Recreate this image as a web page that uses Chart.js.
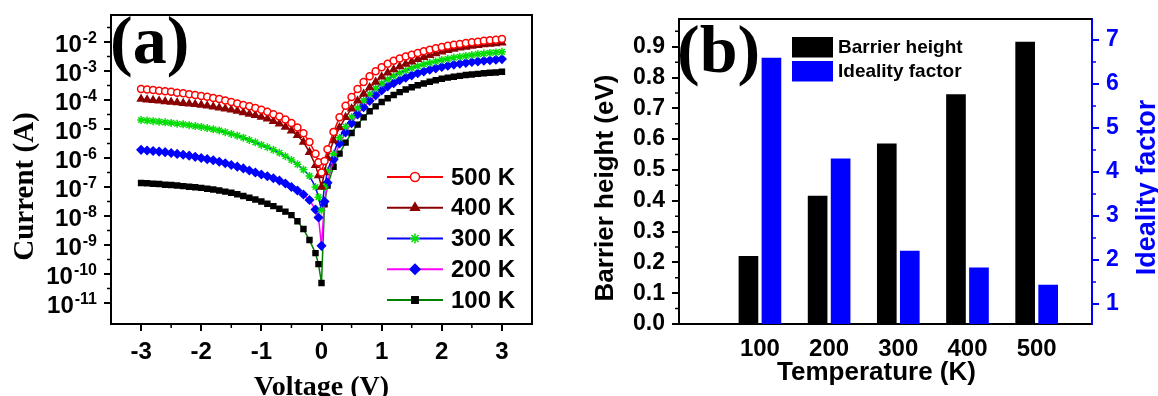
<!DOCTYPE html>
<html>
<head>
<meta charset="utf-8">
<script src="https://cdn.jsdelivr.net/npm/chart.js@4.4.1/dist/chart.umd.min.js"></script>
<style>
  html, body { margin: 0; padding: 0; background: #fff; }
  #wrap { position: relative; width: 1158px; height: 396px; overflow: hidden; }
  canvas { position: absolute; top: 0; }
  #iv { left: 0; }
  #bars { left: 565px; }
</style>
</head>
<body>
<div id="wrap">
  <canvas id="iv" width="565" height="396"></canvas>
  <canvas id="bars" width="593" height="396"></canvas>
</div>
<script>
// ---- panel (a): I-V curves, current as log10(I / A)
const voltage = [-3.0,-2.9,-2.8,-2.7,-2.6,-2.5,-2.4,-2.3,-2.2,-2.1,-2.0,-1.9,-1.8,-1.7,-1.6,-1.5,-1.4,-1.3,-1.2,-1.1,
  -1.0,-0.9,-0.8,-0.7,-0.6,-0.5,-0.4,-0.3,-0.2,-0.1,-0.05,0,0.05,
  0.1,0.2,0.3,0.4,0.5,0.6,0.7,0.8,0.9,1.0,1.1,1.2,1.3,1.4,1.5,1.6,1.7,1.8,1.9,2.0,
  2.1,2.2,2.3,2.4,2.5,2.6,2.7,2.8,2.9,3.0]

const log10Current500K = [-3.62,-3.64,-3.66,-3.68,-3.70,-3.72,-3.75,-3.77,-3.80,-3.83,
  -3.86,-3.89,-3.93,-3.97,-4.02,-4.07,-4.12,-4.17,-4.22,-4.28,
  -4.34,-4.41,-4.49,-4.57,-4.67,-4.79,-4.95,-5.15,-5.45,-5.85,
  -6.15,-6.50,-6.10,
  -5.70,-5.10,-4.60,-4.20,-3.90,-3.62,-3.38,-3.18,-3.01,-2.87,
  -2.75,-2.65,-2.57,-2.50,-2.44,-2.38,-2.32,-2.27,-2.22,-2.17,
  -2.13,-2.10,-2.07,-2.04,-2.01,-1.99,-1.96,-1.94,-1.92,-1.90]
const log10Current400K = [-3.97,-3.99,-4.01,-4.03,-4.05,-4.07,-4.09,-4.11,-4.13,-4.15,
  -4.17,-4.20,-4.23,-4.27,-4.30,-4.34,-4.38,-4.43,-4.48,-4.53,
  -4.59,-4.65,-4.73,-4.82,-4.93,-5.06,-5.22,-5.45,-5.80,-6.25,
  -6.60,-7.00,-6.50,
  -6.00,-5.40,-4.95,-4.60,-4.30,-4.03,-3.79,-3.57,-3.38,-3.20,
  -3.06,-2.95,-2.85,-2.76,-2.68,-2.60,-2.53,-2.46,-2.40,-2.34,
  -2.29,-2.24,-2.20,-2.17,-2.14,-2.11,-2.09,-2.07,-2.05,-2.03]
const log10Current300K = [-4.69,-4.71,-4.73,-4.75,-4.77,-4.79,-4.82,-4.84,-4.87,-4.90,
  -4.93,-4.97,-5.01,-5.05,-5.11,-5.17,-5.23,-5.30,-5.38,-5.46,
  -5.55,-5.63,-5.72,-5.82,-5.94,-6.07,-6.22,-6.40,-6.62,-7.00,
  -7.35,-7.80,-7.00,
  -6.45,-5.85,-5.30,-4.92,-4.59,-4.28,-4.02,-3.80,-3.60,-3.43,
  -3.29,-3.17,-3.07,-2.98,-2.90,-2.83,-2.77,-2.72,-2.67,-2.62,
  -2.58,-2.54,-2.51,-2.48,-2.45,-2.42,-2.40,-2.38,-2.36,-2.34]
const log10Current200K = [-5.72,-5.74,-5.76,-5.78,-5.80,-5.83,-5.86,-5.89,-5.92,-5.96,
  -6.00,-6.04,-6.08,-6.13,-6.18,-6.24,-6.30,-6.36,-6.43,-6.50,
  -6.57,-6.63,-6.70,-6.78,-6.88,-7.00,-7.12,-7.26,-7.45,-7.78,
  -8.05,-9.03,-7.50,
  -6.85,-6.05,-5.50,-5.12,-4.80,-4.50,-4.25,-4.03,-3.84,-3.67,
  -3.53,-3.42,-3.32,-3.23,-3.15,-3.08,-3.02,-2.96,-2.91,-2.86,
  -2.82,-2.78,-2.75,-2.72,-2.69,-2.67,-2.65,-2.63,-2.61,-2.59]
const log10Current100K = [-6.86,-6.87,-6.89,-6.90,-6.92,-6.93,-6.95,-6.97,-6.99,-7.01,
  -7.03,-7.06,-7.09,-7.12,-7.16,-7.20,-7.25,-7.31,-7.37,-7.43,
  -7.50,-7.58,-7.66,-7.75,-7.85,-7.97,-8.18,-8.45,-8.83,-9.28,
  -9.66,-10.31,-7.60,
  -6.95,-6.30,-5.85,-5.47,-5.14,-4.85,-4.60,-4.39,-4.22,-4.07,
  -3.94,-3.83,-3.73,-3.64,-3.56,-3.49,-3.43,-3.37,-3.32,-3.27,
  -3.23,-3.20,-3.17,-3.14,-3.12,-3.10,-3.08,-3.06,-3.05,-3.03]

const voltageTicks = [-3, -2, -1, 0, 1, 2, 3]
const voltageMinorTicks = [-2.5, -1.5, -0.5, 0.5, 1.5, 2.5]
const currentExponents = [-11, -10, -9, -8, -7, -6, -5, -4, -3, -2]

// ---- panel (b): bars
const temperatures = [100, 200, 300, 400, 500]
const barrierHeight = [0.22, 0.415, 0.585, 0.745, 0.915]
const idealityFactor = [6.59, 4.30, 2.20, 1.82, 1.43]
const barrierTicks = [0, 0.1, 0.2, 0.3, 0.4, 0.5, 0.6, 0.7, 0.8, 0.9]
const barrierMinorTicks = [0.05, 0.15, 0.25, 0.35, 0.45, 0.55, 0.65, 0.75, 0.85, 0.95]
const idealityTicks = [1, 2, 3, 4, 5, 6, 7]
const idealityMinorTicks = [1.5, 2.5, 3.5, 4.5, 5.5, 6.5]
const idealityMin = 0.545

const sans = '"Liberation Sans", Arial, sans-serif'
const serif = '"Liberation Serif", "Times New Roman", serif'

// fixes the axis box size so the plot area lands where it does in the figure
function fixSize(size) {
    return scale => {
        if (scale.isHorizontal()) scale.height = size
        else scale.width = size
        scale.paddingTop = scale.paddingBottom = scale.paddingLeft = scale.paddingRight = 0
    }
}

function setTicks(values) {
    return scale => { scale.ticks = values.map(v => ({ value: v })) }
}

function ivSet(label, logs, line, marker, fill, style, radius) {
    return {
        label: label,
        data: voltage.map((v, i) => ({ x: v, y: Math.pow(10, logs[i]) })),
        borderColor: line,
        borderWidth: 1.5,
        pointStyle: style,
        pointRadius: radius,
        pointBorderColor: marker,
        pointBackgroundColor: fill,
        pointBorderWidth: 1.5,
        tension: 0,
    }
}

function drawRotated(ctx, text, x, y) {
    ctx.save()
    ctx.translate(x, y)
    ctx.rotate(-Math.PI / 2)
    ctx.fillText(text, 0, 0)
    ctx.restore()
}

const ivExtras = {
    id: 'ivExtras',
    afterDraw(chart) {
        const { ctx, chartArea: area, scales } = chart
        ctx.save()
        ctx.strokeStyle = '#000'
        ctx.lineWidth = 2
        ctx.strokeRect(area.left, area.top, area.right - area.left, area.bottom - area.top)
        // minor ticks
        ctx.lineWidth = 1.5
        ctx.beginPath()
        voltageMinorTicks.forEach(v => {
            const px = scales.x.getPixelForValue(v)
            ctx.moveTo(px, area.bottom)
            ctx.lineTo(px, area.bottom + 4)
        })
        currentExponents.forEach(n => {
            const py = scales.y.getPixelForValue(Math.pow(10, n + 0.5))
            ctx.moveTo(area.left - 4, py)
            ctx.lineTo(area.left, py)
        })
        ctx.stroke()
        // y tick labels as 10 with a raised exponent
        ctx.fillStyle = '#000'
        ctx.textAlign = 'right'
        ctx.textBaseline = 'alphabetic'
        const labelRight = area.left - 14
        currentExponents.forEach(n => {
            const py = scales.y.getPixelForValue(Math.pow(10, n))
            ctx.font = 'bold 16px ' + sans
            const exp = String(n)
            ctx.fillText(exp, labelRight, py + 1)
            const w = ctx.measureText(exp).width
            ctx.font = 'bold 24px ' + sans
            ctx.fillText('10', labelRight - w - 1, py + 10)
        })
        // legend: line with marker, then label
        chart.data.datasets.forEach((ds, i) => {
            const cy = 177 + i * 30.75
            ctx.strokeStyle = ds.borderColor
            ctx.lineWidth = 2
            ctx.beginPath()
            ctx.moveTo(387, cy)
            ctx.lineTo(443, cy)
            ctx.stroke()
            ctx.fillStyle = ds.pointBackgroundColor
            ctx.strokeStyle = ds.pointBorderColor
            ctx.lineWidth = ds.pointBorderWidth
            Chart.helpers.drawPoint(ctx, { pointStyle: ds.pointStyle, radius: ds.pointRadius + 1,
                borderWidth: ds.pointBorderWidth, rotation: 0 }, 415, cy)
            ctx.fillStyle = '#000'
            ctx.font = 'bold 24px ' + sans
            ctx.textAlign = 'left'
            ctx.textBaseline = 'middle'
            ctx.fillText(ds.label, 451, cy + 1)
        })
        // titles
        ctx.fillStyle = '#000'
        ctx.textBaseline = 'alphabetic'
        ctx.textAlign = 'center'
        ctx.font = 'bold 28px ' + serif
        ctx.fillText('Voltage (V)', 321.5, 395)
        ctx.font = 'bold 29px ' + serif
        drawRotated(ctx, 'Current (A)', 33, 186.5)
        ctx.textAlign = 'left'
        ctx.font = 'bold 68px ' + serif
        ctx.fillText('(a)', 110, 63)
        ctx.restore()
    }
}

const barExtras = {
    id: 'barExtras',
    afterDraw(chart) {
        const { ctx, chartArea: area, scales } = chart
        ctx.save()
        ctx.strokeStyle = '#000'
        ctx.lineWidth = 2
        ctx.beginPath()
        ctx.moveTo(area.left, area.top)
        ctx.lineTo(area.right, area.top)
        ctx.stroke()
        ctx.lineWidth = 1.5
        ctx.beginPath()
        barrierMinorTicks.forEach(v => {
            const py = scales.y.getPixelForValue(v)
            ctx.moveTo(area.left - 4, py)
            ctx.lineTo(area.left, py)
        })
        ctx.stroke()
        ctx.strokeStyle = '#0000ff'
        ctx.beginPath()
        idealityMinorTicks.forEach(v => {
            const py = scales.y1.getPixelForValue(v)
            ctx.moveTo(area.right, py)
            ctx.lineTo(area.right + 4, py)
        })
        ctx.stroke()
        // legend
        ctx.font = 'bold 19px ' + sans
        ctx.textAlign = 'left'
        ctx.textBaseline = 'middle'
        chart.data.datasets.forEach((ds, i) => {
            const top = 37 + i * 24
            ctx.fillStyle = ds.backgroundColor
            ctx.fillRect(227, top, 41, 20.5)
            ctx.fillStyle = '#000'
            ctx.fillText(ds.label, 273, top + 11)
        })
        // titles
        ctx.textBaseline = 'alphabetic'
        ctx.textAlign = 'center'
        ctx.font = 'bold 26px ' + sans
        ctx.fillText('Temperature (K)', 311.5, 380)
        drawRotated(ctx, 'Barrier height (eV)', 48, 188)
        ctx.fillStyle = '#0000ff'
        ctx.font = 'bold 27px ' + sans
        drawRotated(ctx, 'Ideality factor', 590, 187.5)
        ctx.fillStyle = '#000'
        ctx.textAlign = 'left'
        ctx.font = 'bold 68px ' + serif
        ctx.fillText('(b)', 112, 72)
        ctx.restore()
    }
}

const axisLine = { display: true, color: '#000', width: 2 }
const majorTickMarks = { display: true, drawOnChartArea: false, drawTicks: true, tickLength: 7, color: '#000', lineWidth: 2 }

new Chart(document.getElementById('iv'), {
    type: 'line',
    data: {
        datasets: [
            ivSet('500 K', log10Current500K, '#ff0000', '#ff0000', '#ffffff', 'circle', 3.5),
            ivSet('400 K', log10Current400K, '#8b0000', '#8b0000', '#8b0000', 'triangle', 4),
            ivSet('300 K', log10Current300K, '#0000ff', '#00e000', '#00e000', 'star', 4),
            ivSet('200 K', log10Current200K, '#ff00ff', '#0000ff', '#0000ff', 'rectRot', 4),
            ivSet('100 K', log10Current100K, '#008000', '#000000', '#000000', 'rect', 3.5),
        ],
    },
    options: {
        responsive: false,
        animation: false,
        devicePixelRatio: 1,
        layout: { padding: { top: 15, right: 33, bottom: 0, left: 0 } },
        plugins: { legend: { display: false }, tooltip: { enabled: false } },
        scales: {
            x: {
                type: 'linear', min: -3.5, max: 3.5,
                afterBuildTicks: setTicks(voltageTicks),
                afterFit: fixSize(72),
                grid: majorTickMarks,
                border: axisLine,
                ticks: { color: '#000', padding: 7, autoSkip: false, maxRotation: 0,
                    font: { family: sans, size: 24, weight: 'bold' } },
            },
            y: {
                type: 'logarithmic', min: 1.89e-12, max: 8.5e-2,
                afterBuildTicks: setTicks(currentExponents.map(n => Math.pow(10, n))),
                afterFit: fixSize(111),
                grid: majorTickMarks,
                border: axisLine,
                // labels are drawn by ivExtras so the exponent can be raised
                ticks: { display: false },
            },
        },
    },
    plugins: [ivExtras],
})

new Chart(document.getElementById('bars'), {
    type: 'bar',
    data: {
        datasets: [
            {
                label: 'Barrier height',
                data: temperatures.map((t, i) => ({ x: t, y: barrierHeight[i] })),
                backgroundColor: '#000000',
                yAxisID: 'y',
                barThickness: 23,
                maxBarThickness: 19,
            },
            {
                label: 'Ideality factor',
                data: temperatures.map((t, i) => ({ x: t, y: idealityFactor[i] })),
                backgroundColor: '#0000ff',
                yAxisID: 'y1',
                base: idealityMin,
                barThickness: 23,
                maxBarThickness: 19,
            },
        ],
    },
    options: {
        responsive: false,
        animation: false,
        devicePixelRatio: 1,
        layout: { padding: { top: 19, right: 0, bottom: 0, left: 0 } },
        plugins: { legend: { display: false }, tooltip: { enabled: false } },
        scales: {
            x: {
                type: 'linear', min: -17, max: 580, offset: false,
                afterBuildTicks: setTicks(temperatures),
                afterFit: fixSize(72),
                grid: { display: false, drawTicks: false, offset: false },
                border: axisLine,
                ticks: { color: '#000', padding: 11, autoSkip: false, maxRotation: 0,
                    font: { family: sans, size: 24, weight: 'bold' } },
            },
            y: {
                type: 'linear', position: 'left', min: 0, max: 0.99,
                afterBuildTicks: setTicks(barrierTicks),
                afterFit: fixSize(114),
                grid: majorTickMarks,
                border: axisLine,
                ticks: { color: '#000', padding: 7, autoSkip: false,
                    font: { family: sans, size: 23, weight: 'bold' },
                    callback: v => v.toFixed(1) },
            },
            y1: {
                type: 'linear', position: 'right', min: idealityMin, max: 7.477,
                afterBuildTicks: setTicks(idealityTicks),
                afterFit: fixSize(66),
                grid: { display: true, drawOnChartArea: false, drawTicks: true, tickLength: 7, color: '#0000ff', lineWidth: 2 },
                border: { display: true, color: '#0000ff', width: 2 },
                ticks: { color: '#0000ff', padding: 7, autoSkip: false,
                    font: { family: sans, size: 23, weight: 'bold' } },
            },
        },
    },
    plugins: [barExtras],
})
</script>
</body>
</html>
